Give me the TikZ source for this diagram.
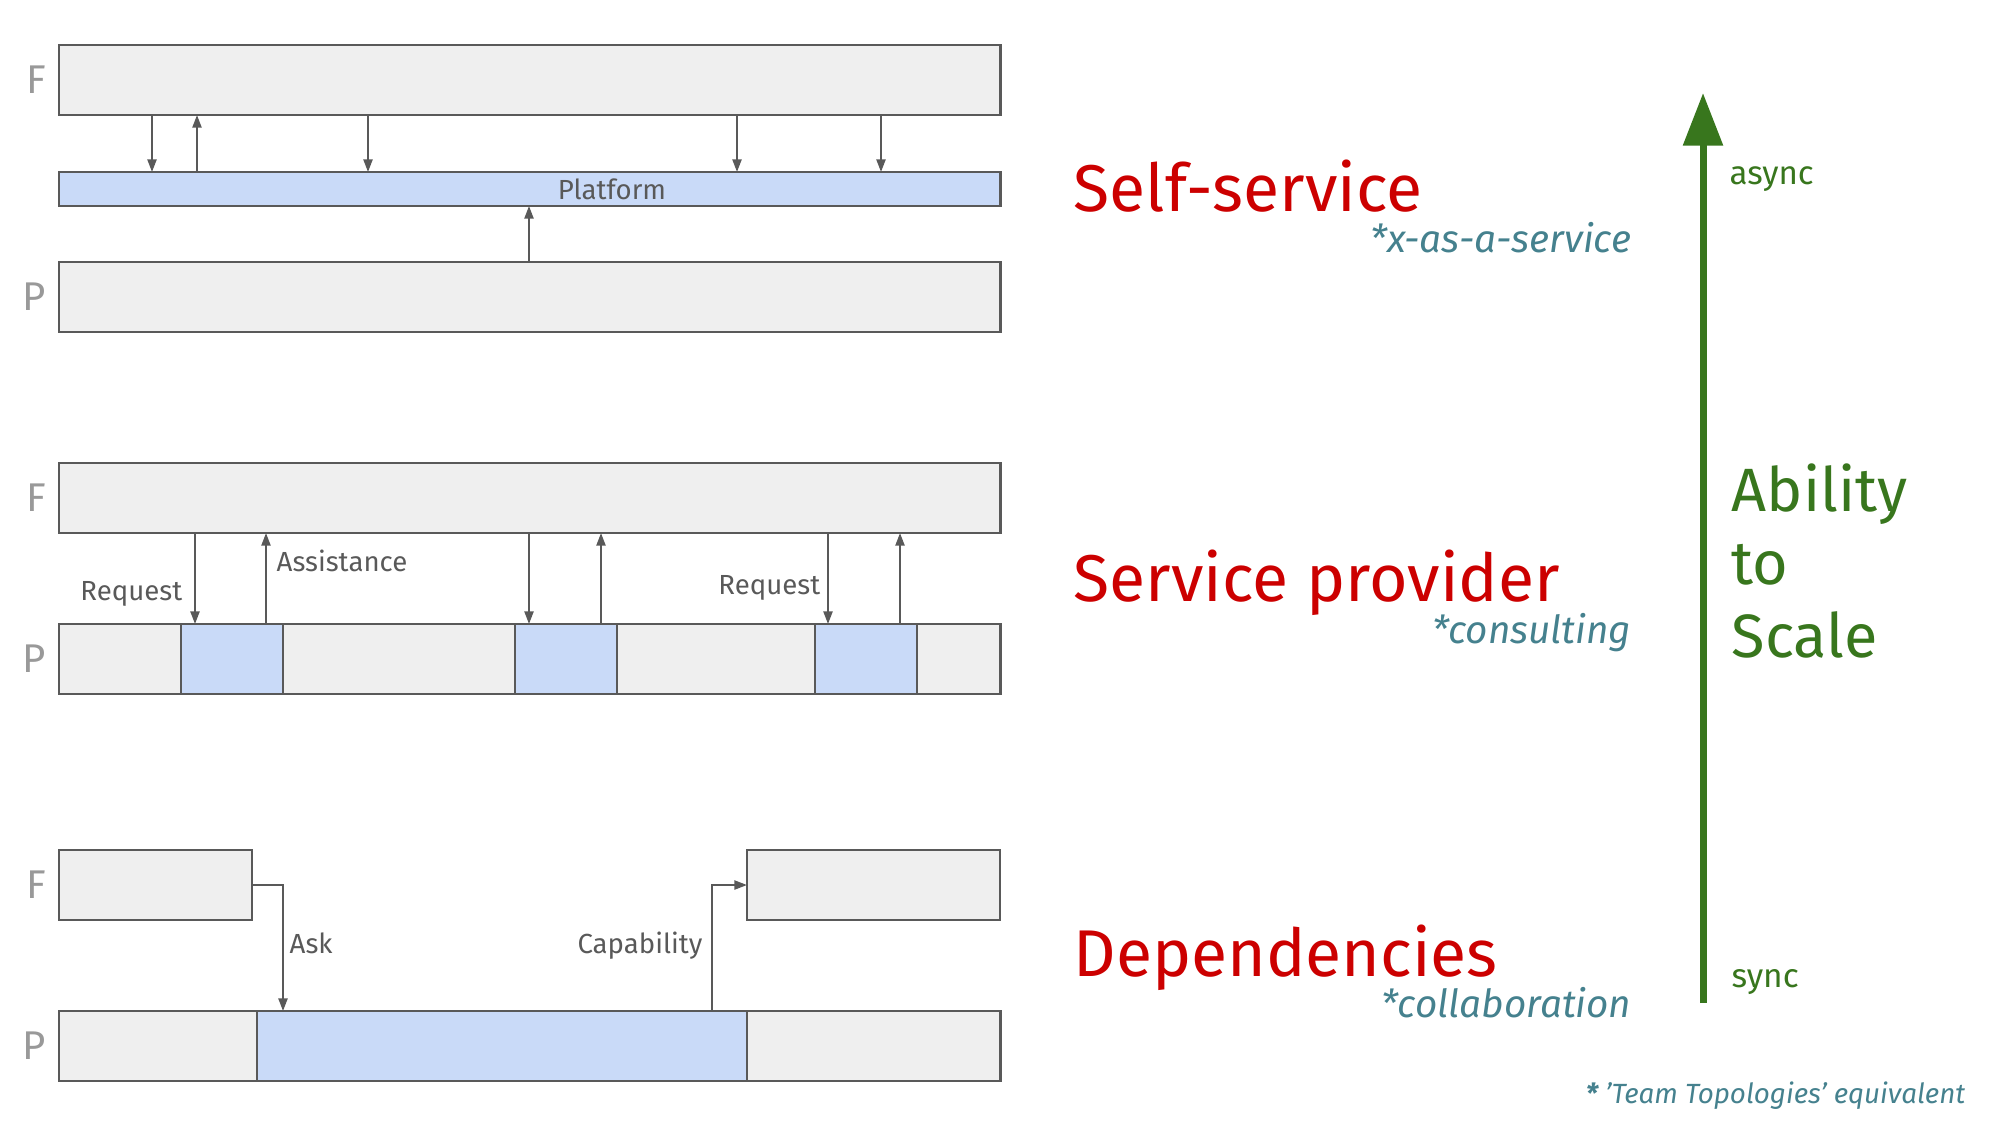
\documentclass[tikz,border=0pt]{standalone}
\usepackage{fontspec}
\setmainfont{Fira Sans}
\usetikzlibrary{arrows.meta,positioning}
\definecolor{boxfill}{HTML}{EFEFEF}
\definecolor{boxline}{HTML}{595959}
\definecolor{boxblue}{HTML}{C9DAF8}
\definecolor{lblgray}{HTML}{999999}
\definecolor{titlered}{HTML}{CC0000}
\definecolor{subteal}{HTML}{45818E}
\definecolor{scalegreen}{HTML}{38761D}
\begin{document}
\begin{tikzpicture}[x=0.01cm,y=-0.01cm,
    gbox/.style={draw=boxline,line width=0.65pt,fill=boxfill,inner sep=0,outer sep=0,anchor=north west,minimum height=0.7cm},
    bbox/.style={gbox,fill=boxblue},
    arr/.style={-{Triangle[length=3.6pt,width=2.6pt]},draw=boxline,line width=0.55pt},
    lbl/.style={text=lblgray,inner sep=0,font=\fontsize{11.4}{13}\selectfont},
    note/.style={text=boxline,inner sep=0,font=\fontsize{7.85}{9}\selectfont},
    title/.style={text=titlered,inner sep=0,anchor=base west,font=\fontsize{18.8}{22}\selectfont},
    sub/.style={text=subteal,inner sep=0,anchor=base east,font=\fontsize{11}{13}\selectfont\itshape},
    scl/.style={text=scalegreen,inner sep=0,anchor=base west}]
    \useasboundingbox (0,0) rectangle (2000,1125);

    % 第一部分: Self-service
    \node[gbox,minimum width=9.41cm] (F1) at (59,45) {};
    \node[bbox,minimum width=9.41cm,minimum height=0.34cm] (plat) at (59,172) {};
    \node[note] (platlbl) at (612,189) {Platform};
    \node[gbox,minimum width=9.41cm] (P1) at (59,262) {};
    \node[lbl,left=0.12cm of F1] (F1lbl) {F};
    \node[lbl,left=0.12cm of P1] (P1lbl) {P};

    % 箭头 (F -> Platform)
    \foreach \x in {152,368,737,881} {
        \draw[arr] (\x,0 |- F1.south) -- (\x,0 |- plat.north);
    }
    \draw[arr] (197,0 |- plat.north) -- (197,0 |- F1.south); % 上
    \draw[arr] (529,0 |- P1.north) -- (529,0 |- plat.south); % 上

    % 第二部分: Service provider
    \node[gbox,minimum width=9.41cm] (F2) at (59,463) {};
    \node[gbox,minimum width=9.41cm] (P2) at (59,624) {};
    \node[bbox,minimum width=1.02cm] (B1) at (181,624) {};
    \node[bbox,minimum width=1.02cm] (B2) at (515,624) {};
    \node[bbox,minimum width=1.02cm] (B3) at (815,624) {};
    \node[lbl,left=0.12cm of F2] (F2lbl) {F};
    \node[lbl,left=0.12cm of P2] (P2lbl) {P};

    % 请求 / 协助
    \foreach \d/\u/\b in {195/266/B1,529/601/B2,828/900/B3} {
        \draw[arr] (\d,0 |- F2.south) -- (\d,0 |- \b.north);
        \draw[arr] (\u,0 |- \b.north) -- (\u,0 |- F2.south);
    }
    \node[note,anchor=base east] (req1) at (183,601) {Request};
    \node[note,anchor=base west] (assist) at (276,572) {Assistance};
    \node[note,anchor=base east] (req2) at (821,595) {Request};

    % 第三部分: Dependencies
    \node[gbox,minimum width=1.93cm] (FL) at (59,850) {};
    \node[gbox,minimum width=2.53cm] (FR) at (747,850) {};
    \node[gbox,minimum width=9.41cm] (P3) at (59,1011) {};
    \node[bbox,minimum width=4.90cm] (B4) at (257,1011) {};
    \node[lbl,left=0.12cm of FL] (F3lbl) {F};
    \node[lbl,left=0.12cm of P3] (P3lbl) {P};
    \draw[arr] (FL.east) -| (283,0 |- B4.north);
    \draw[arr] (712,0 |- B4.north) |- (FR.west);
    \node[note,anchor=base west] (ask) at (289,953) {Ask};
    \node[note,anchor=base east] (capab) at (703,953) {Capability};

    % 右侧标题
    \node[title] (self) at (1073,212) {Self-service};
    \node[sub] (selfsub) at (1632,253) {*x-as-a-service};
    \node[title] (prov) at (1073,602) {Service provider};
    \node[sub] (provsub) at (1632,643) {*consulting};
    \node[title] (dep) at (1073,976) {Dependencies};
    \node[sub] (depsub) at (1632,1017) {*collaboration};

    % 绿色箭头 (sync -> async)
    \coordinate (syncend) at (1703,1003);
    \coordinate (asyncend) at (1703,93);
    \draw[scalegreen,line width=2pt,-{Triangle[length=15pt,width=11pt]}] (syncend) -- (asyncend);
    \node[scl,font=\fontsize{9.4}{12}\selectfont] (async) at (1729,185) {async};
    \node[scl,font=\fontsize{9.5}{12}\selectfont] (sync) at (1731,987) {sync};
    \node[scl,align=left,font=\fontsize{17.4}{20.8}\selectfont] (scale) at (1731,658) {Ability\\to\\Scale};

    % 脚注
    \node[sub,font=\fontsize{7.9}{10}\selectfont\itshape] (foot) at (1966,1103) {{\bfseries *} ’Team Topologies’ equivalent};
\end{tikzpicture}
\end{document}
